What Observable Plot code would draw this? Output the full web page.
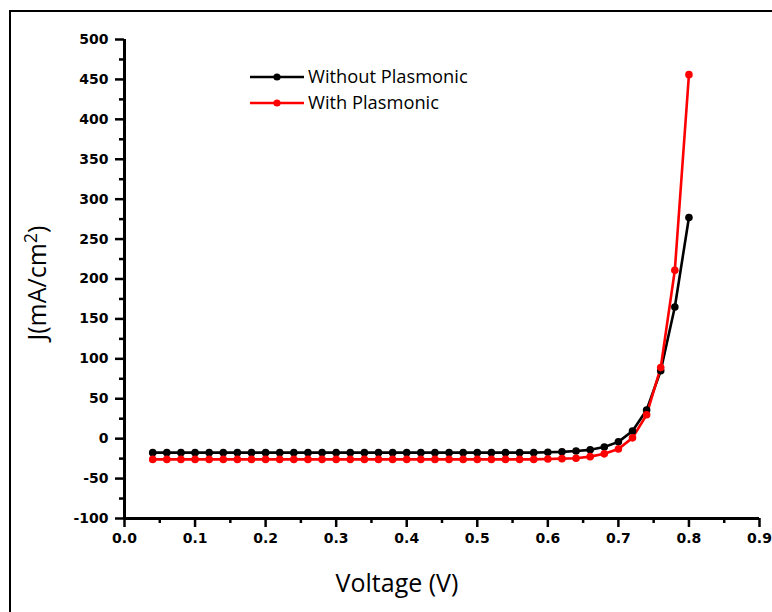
<!DOCTYPE html>
<html>
<head>
<meta charset="utf-8">
<script src="https://cdn.jsdelivr.net/npm/d3@7"></script>
<script src="https://cdn.jsdelivr.net/npm/@observablehq/plot@0.6"></script>
<style>
  html, body { margin: 0; padding: 0; background: #fff; }
  #wrap { position: relative; width: 772px; height: 612px; overflow: hidden; }
  #frame { position: absolute; left: 9px; top: 10px; width: 800px; height: 700px;
           border-top: 2.5px solid #000; border-left: 2.5px solid #000; pointer-events: none; }
</style>
</head>
<body>
<div id="wrap"><div id="frame"></div></div>
<script>
const voltage = [0.04,0.06,0.08,0.10,0.12,0.14,0.16,0.18,0.20,0.22,0.24,0.26,0.28,0.30,0.32,0.34,0.36,0.38,0.40,0.42,0.44,0.46,0.48,0.50,0.52,0.54,0.56,0.58,0.60,0.62,0.64,0.66,0.68,0.70,0.72,0.74,0.76,0.78,0.80];
const withoutPlasmonic = [-17.5,-17.5,-17.5,-17.5,-17.5,-17.5,-17.5,-17.5,-17.5,-17.5,-17.5,-17.5,-17.5,-17.5,-17.5,-17.5,-17.5,-17.5,-17.5,-17.5,-17.5,-17.5,-17.5,-17.5,-17.5,-17.5,-17.5,-17.5,-17,-16.5,-15.5,-14,-10.5,-4,9.5,36,85,165,277];
const withPlasmonic = [-26,-26,-26,-26,-26,-26,-26,-26,-26,-26,-26,-26,-26,-26,-26,-26,-26,-26,-26,-26,-26,-26,-26,-26,-26,-26,-26,-26,-25.5,-25,-24.5,-22.5,-19,-13,1,30,89,211,456];
const seriesNames = ["Without Plasmonic", "With Plasmonic"];
const seriesColors = ["#000000", "#ff0000"];
const xTicks = [0.0,0.1,0.2,0.3,0.4,0.5,0.6,0.7,0.8,0.9];
const xMinor = [0.05,0.15,0.25,0.35,0.45,0.55,0.65,0.75,0.85];
const yTicks = [-100,-50,0,50,100,150,200,250,300,350,400,450,500];
const yMinor = [-75,-25,25,75,125,175,225,275,325,375,425,475];

const data = [];
voltage.forEach((v, i) => {
  data.push({v, j: withoutPlasmonic[i], s: seriesNames[0]});
});
voltage.forEach((v, i) => {
  data.push({v, j: withPlasmonic[i], s: seriesNames[1]});
});

const chart = Plot.plot({
  width: 772,
  height: 612,
  marginLeft: 124,
  marginRight: 13,
  marginTop: 39,
  marginBottom: 94,
  style: {fontFamily: "DejaVu Sans", fontSize: "14px", color: "#000", background: "transparent", overflow: "visible"},
  x: {domain: [0, 0.9]},
  y: {domain: [-100, 500]},
  color: {domain: seriesNames, range: seriesColors},
  marks: [
    Plot.axisX({ticks: xMinor, tickSize: 5, strokeWidth: 2.5, text: null, label: null}),
    Plot.axisX({ticks: xTicks, tickSize: 9, strokeWidth: 2.5, tickPadding: 6, fontWeight: "bold", fontSize: 14,
                tickFormat: d => d.toFixed(1), label: null}),
    Plot.axisY({ticks: yMinor, tickSize: 5, strokeWidth: 2.5, text: null, label: null}),
    Plot.axisY({ticks: yTicks, tickSize: 9, strokeWidth: 2.5, tickPadding: 7, fontWeight: "bold", fontSize: 14,
                tickFormat: d => String(d), label: null}),
    Plot.ruleX([0], {y1: -100, y2: 500, strokeWidth: 3, stroke: "#000"}),
    Plot.ruleY([-100], {x1: 0, x2: 0.9, strokeWidth: 3, stroke: "#000"}),
    Plot.line(data, {x: "v", y: "j", z: "s", stroke: "s", strokeWidth: 2.6}),
    Plot.dot(data, {x: "v", y: "j", fill: "s", r: 3.8, stroke: null})
  ]
});

const svg = d3.select(chart);
// axis titles
svg.append("text")
  .attr("x", 397).attr("y", 592)
  .attr("text-anchor", "middle")
  .attr("font-family", "Open Sans")
  .attr("font-size", 25)
  .attr("fill", "#000")
  .text("Voltage (V)");

const yl = svg.append("text")
  .attr("transform", "translate(46,283) rotate(-90)")
  .attr("text-anchor", "middle")
  .attr("font-family", "Open Sans")
  .attr("font-size", 25)
  .attr("fill", "#000");
yl.append("tspan").text("J(mA/cm");
yl.append("tspan").attr("dy", -9).attr("font-size", 18).text("2");
yl.append("tspan").attr("dy", 9).text(")");

// legend
const lg = svg.append("g").attr("text-anchor", "start");
seriesNames.forEach((name, i) => {
  const yy = 77 + i * 26;
  lg.append("line").attr("x1", 250).attr("x2", 304).attr("y1", yy).attr("y2", yy)
    .attr("stroke", seriesColors[i]).attr("stroke-width", 2.6);
  lg.append("circle").attr("cx", 277).attr("cy", yy).attr("r", 3.6).attr("fill", seriesColors[i]);
  lg.append("text").attr("x", 308).attr("y", yy).attr("dy", "0.35em")
    .attr("text-anchor", "start")
    .attr("font-family", "Open Sans").attr("font-size", 18.3).attr("font-weight", 500).attr("fill", "#000")
    .text(name);
});

document.getElementById("wrap").appendChild(chart);
chart.style.position = "absolute";
chart.style.left = "0px";
chart.style.top = "0px";
</script>
</body>
</html>
